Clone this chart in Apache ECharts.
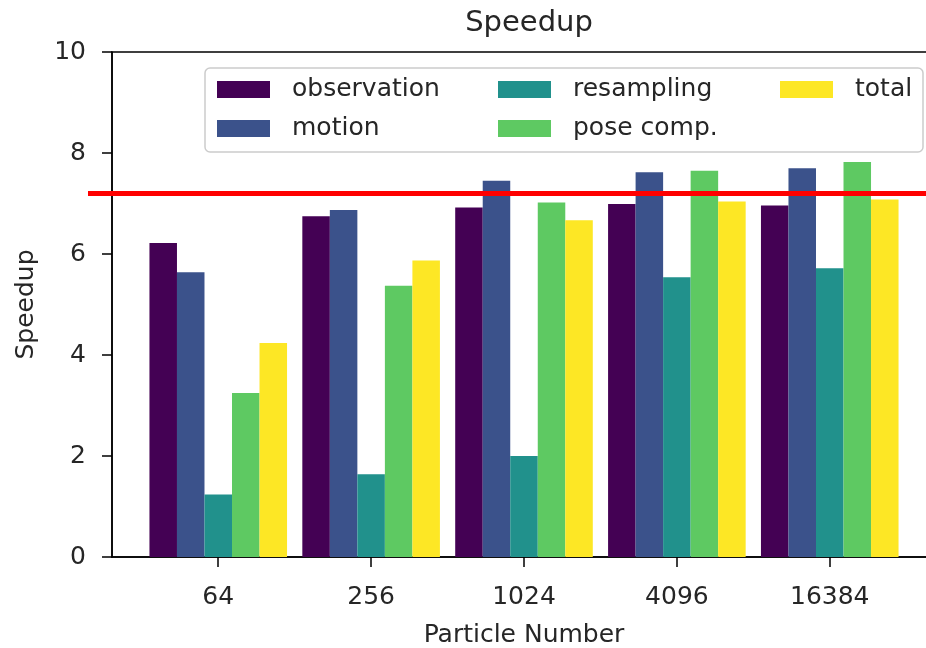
<!DOCTYPE html>
<html>
<head>
<meta charset="utf-8">
<script src="https://cdn.jsdelivr.net/npm/echarts@6/dist/echarts.min.js"></script>
<style>
  html, body { margin: 0; padding: 0; background: #fff; }
  #chart { width: 926px; height: 648px; }
</style>
</head>
<body>
<div id="chart"></div>
<script>
// particle counts on x, speedup on y
var categories = ['64', '256', '1024', '4096', '16384'];
var seriesNames = ['observation', 'motion', 'resampling', 'pose comp.', 'total'];
var observation = [6.22, 6.75, 6.92, 6.99, 6.96];
var motion = [5.64, 6.87, 7.45, 7.62, 7.70];
var resampling = [1.24, 1.64, 2.00, 5.54, 5.72];
var poseComp = [3.25, 5.37, 7.02, 7.65, 7.82];
var total = [4.24, 5.87, 6.67, 7.04, 7.08];
var yTicks = [0, 2, 4, 6, 8, 10];
var threshold = 7.2;

var colors = ['#440154', '#3b528b', '#21918c', '#5ec962', '#fde725'];
var values = [observation, motion, resampling, poseComp, total];
var font = 'DejaVu Sans';
var textColor = '#262626';

var chart = echarts.init(document.getElementById('chart'));

var series = seriesNames.map(function (name, i) {
  return {
    name: name,
    type: 'bar',
    barWidth: '18%',
    barGap: '0%',
    itemStyle: { color: colors[i] },
    data: values[i].map(function (v, k) { return [k, v]; })
  };
});
// red reference line, sticks out a little left of the y axis like the original
series[series.length - 1].markLine = {
  silent: true,
  symbol: 'none',
  label: { show: false },
  lineStyle: { color: '#ff0000', width: 5, type: 'solid' },
  data: [[{ x: 88, yAxis: threshold }, { x: 940, yAxis: threshold }]]
};

function legendAt(left, names) {
  return {
    orient: 'vertical',
    left: left,
    top: 77,
    padding: 0,
    itemWidth: 53,
    itemHeight: 17,
    itemGap: 14,
    icon: 'rect',
    selectedMode: false,
    data: names,
    textStyle: {
      fontFamily: font, fontSize: 25, color: textColor,
      lineHeight: 25, padding: [0, 0, 0, 17]
    }
  };
}

chart.setOption({
  animation: false,
  backgroundColor: '#fff',
  title: {
    text: 'Speedup',
    left: 524,
    top: 4,
    textAlign: 'center',
    textStyle: { fontFamily: font, fontSize: 29, fontWeight: 'normal', color: textColor }
  },
  legend: [
    legendAt(217, ['observation', 'motion']),
    legendAt(498, ['resampling', 'pose comp.']),
    legendAt(780, ['total'])
  ],
  graphic: [{
    type: 'rect',
    z: 0,
    shape: { x: 205, y: 68, width: 718, height: 84, r: 5 },
    style: { fill: 'rgba(255,255,255,0.85)', stroke: '#cccccc', lineWidth: 1.5 }
  }],
  grid: {
    left: 112, top: 52, right: -10, bottom: 91,
    show: true, borderColor: '#000', borderWidth: 1.5,
    containLabel: false, outerBoundsMode: 'none'
  },
  xAxis: {
    type: 'value',
    min: -0.695,
    max: 4.695,
    name: 'Particle Number',
    nameLocation: 'middle',
    nameGap: 66,
    nameTextStyle: { fontFamily: font, fontSize: 25, color: textColor },
    axisLine: { show: true, onZero: false, lineStyle: { color: '#000', width: 1.5 } },
    axisTick: { show: true, length: 10, lineStyle: { color: '#000', width: 1.5 }, customValues: [0, 1, 2, 3, 4] },
    axisLabel: {
      customValues: [0, 1, 2, 3, 4],
      margin: 28,
      fontFamily: font, fontSize: 25, color: textColor,
      formatter: function (v) { return categories[Math.round(v)]; }
    },
    splitLine: { show: false }
  },
  yAxis: {
    type: 'value',
    min: yTicks[0],
    max: yTicks[yTicks.length - 1],
    interval: 2,
    name: 'Speedup',
    nameLocation: 'middle',
    nameGap: 73,
    nameTextStyle: { fontFamily: font, fontSize: 25, color: textColor },
    axisLine: { show: true, onZero: false, lineStyle: { color: '#000', width: 1.5 } },
    axisTick: { show: true, length: 10, lineStyle: { color: '#000', width: 1.5 } },
    axisLabel: { margin: 26, fontFamily: font, fontSize: 25, color: textColor },
    splitLine: { show: false }
  },
  series: series
});
</script>
</body>
</html>
